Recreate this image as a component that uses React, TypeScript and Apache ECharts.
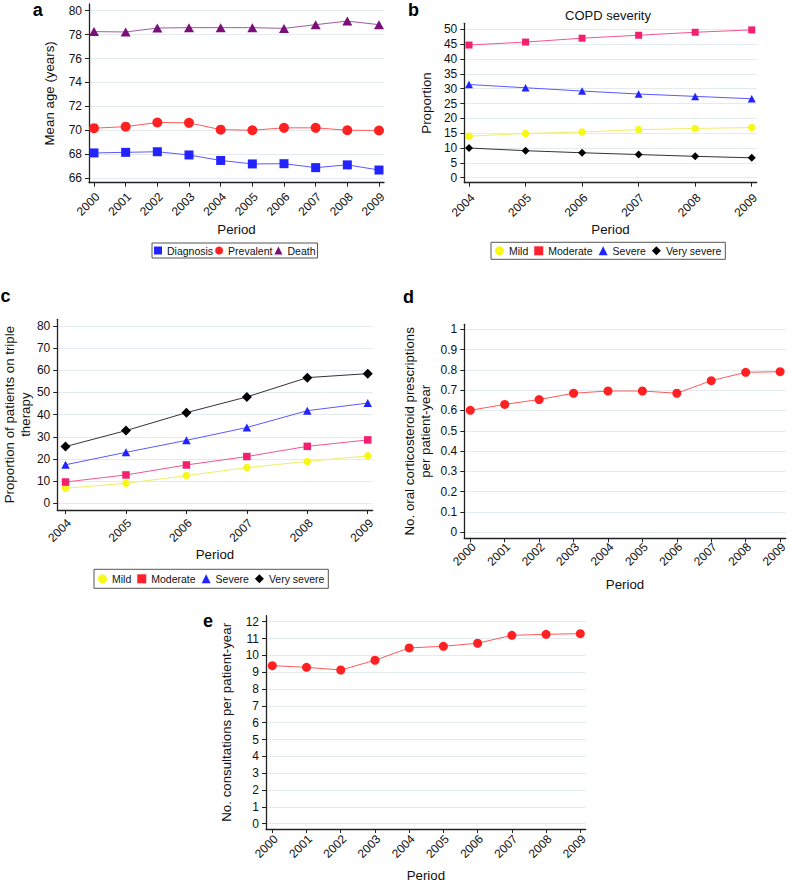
import React, { useEffect, useRef } from 'react';
import * as echarts from 'echarts';

const FONT = '"Liberation Sans", Arial, Helvetica, sans-serif';

// ---- Panel a: mean age ----
const yearsA = [2000, 2001, 2002, 2003, 2004, 2005, 2006, 2007, 2008, 2009];
const diagnosisAge = [68.1, 68.15, 68.2, 67.93, 67.47, 67.18, 67.2, 66.87, 67.1, 66.67];
const prevalentAge = [70.17, 70.3, 70.65, 70.62, 70.05, 70.0, 70.2, 70.2, 70.0, 69.98];
const deathAge = [78.25, 78.22, 78.55, 78.58, 78.58, 78.58, 78.52, 78.83, 79.13, 78.83];
const yTicksA = [66, 68, 70, 72, 74, 76, 78, 80];

// ---- Panel b: COPD severity ----
const yearsB = [2004, 2005, 2006, 2007, 2008, 2009];
const sevMild = [14.0, 14.9, 15.4, 16.2, 16.6, 16.9];
const sevModerate = [44.7, 45.7, 47.0, 48.0, 49.0, 49.8];
const sevSevere = [31.4, 30.3, 29.2, 28.2, 27.4, 26.6];
const sevVerySevere = [10.0, 9.1, 8.4, 7.8, 7.2, 6.7];
const yTicksB = [0, 5, 10, 15, 20, 25, 30, 35, 40, 45, 50];

// ---- Panel c: triple therapy ----
const tripleMild = [6.8, 9.0, 12.5, 16.1, 18.9, 21.4];
const tripleModerate = [9.6, 12.8, 17.3, 21.1, 25.7, 28.6];
const tripleSevere = [17.4, 23.0, 28.4, 34.2, 41.8, 45.2];
const tripleVerySevere = [25.6, 32.8, 40.9, 48.0, 56.7, 58.5];
const yTicksC = [0, 10, 20, 30, 40, 50, 60, 70, 80];

// ---- Panel d: oral corticosteroid prescriptions ----
const ocsRate = [0.601, 0.63, 0.654, 0.685, 0.696, 0.696, 0.685, 0.747, 0.788, 0.791];
const yTicksD = [0, 0.1, 0.2, 0.3, 0.4, 0.5, 0.6, 0.7, 0.8, 0.9, 1];

// ---- Panel e: consultations ----
const consultRate = [9.39, 9.29, 9.13, 9.71, 10.44, 10.54, 10.72, 11.19, 11.25, 11.29];
const yTicksE = [0, 1, 2, 3, 4, 5, 6, 7, 8, 9, 10, 11, 12];

const AXIS_COLOR = '#222';
const GRID_COLOR = '#e3ebef';
const TEXT_COLOR = '#111';

function xAxisDef(gridIndex: number, min: number, max: number, ticks: number[], nameGap: number, labelMargin: number) {
  return {
    type: 'value', gridIndex, min, max,
    axisLine: { show: true, onZero: false, lineStyle: { color: AXIS_COLOR, width: 1.3 } },
    axisTick: { show: true, customValues: ticks, length: 4, lineStyle: { color: AXIS_COLOR, width: 1 } },
    axisLabel: {
      customValues: ticks, rotate: 45, margin: labelMargin, fontSize: 12, color: TEXT_COLOR, fontFamily: FONT,
      verticalAlign: 'top', lineHeight: 10,
      formatter: (v: number) => String(v),
    },
    splitLine: { show: false },
    name: 'Period', nameLocation: 'middle', nameGap,
    nameTextStyle: { fontSize: 13.3, color: TEXT_COLOR, fontFamily: FONT },
  };
}

function yAxisDef(gridIndex: number, min: number, max: number, ticks: number[], name: string, nameGap: number) {
  return {
    type: 'value', gridIndex, min, max,
    axisLine: { show: true, onZero: false, lineStyle: { color: AXIS_COLOR, width: 1.3 } },
    axisTick: { show: true, customValues: ticks, length: 4, lineStyle: { color: AXIS_COLOR, width: 1 } },
    axisLabel: { customValues: ticks, margin: 7, fontSize: 12, color: TEXT_COLOR, fontFamily: FONT, formatter: (v: number) => String(v) },
    splitLine: { show: true, lineStyle: { color: GRID_COLOR, width: 1 } },
    name, nameLocation: 'middle', nameGap,
    nameTextStyle: { fontSize: 13.3, color: TEXT_COLOR, fontFamily: FONT, lineHeight: 16 },
  };
}

function lineSeries(name: string, xs: number[], ys: number[], idx: number, symbol: string, size: number | number[], marker: string, line: string) {
  return {
    type: 'line', name, xAxisIndex: idx, yAxisIndex: idx,
    data: xs.map((x, i) => [x, ys[i]]),
    symbol, symbolSize: size, showSymbol: true,
    itemStyle: { color: marker, borderWidth: 0 },
    lineStyle: { color: line, width: 1 },
    emphasis: { disabled: true },
    animation: false,
  };
}

function legendDef(items: any[], left: number, top: number, padding: number[], itemGap: number, itemWidth: number) {
  return {
    data: items, left, top, orient: 'horizontal', padding, itemGap,
    borderColor: '#555', borderWidth: 1, itemWidth, itemHeight: itemWidth,
    selectedMode: false,
    textStyle: { fontSize: 10.5, fontFamily: FONT, color: TEXT_COLOR },
  };
}

function letter(text: string, x: number, y: number) {
  return {
    type: 'text', x, y,
    style: { text, fontSize: 18, fontWeight: 'bold', fontFamily: FONT, fill: '#000', align: 'left', verticalAlign: 'middle' },
  };
}

const BLUE = '#2323ff', BLUE_L = '#5a5aff';
const RED = '#ff2121', RED_L = '#ff5a5a';
const PURPLE = '#7a0f7a', PURPLE_L = '#a35aa3';
const YELLOW = '#f7f71a', YELLOW_L = '#eeee66';
const PINK = '#f2206f', PINK_L = '#f25590';
const BLACK = '#000000', BLACK_L = '#333333';

export default function App() {
  const ref = useRef<HTMLDivElement>(null);
  useEffect(() => {
    if (!ref.current) return;
    const chart = echarts.init(ref.current, undefined, { renderer: 'svg' });
    const option: any = {
      animation: false,
      backgroundColor: '#ffffff',
      textStyle: { fontFamily: FONT },
      grid: [
        { left: 89, top: 4, width: 295, height: 178.7 },
        { left: 464.3, top: 23.3, width: 292.4, height: 159.4 },
        { left: 53.3, top: 319.3, width: 319.4, height: 190.7 },
        { left: 464.3, top: 324.3, width: 322.4, height: 214 },
        { left: 266, top: 615.7, width: 319.7, height: 213.6 },
      ],
      xAxis: [
        xAxisDef(0, 1999.842, 2009.158, yearsA, 40, 8.5),
        xAxisDef(1, 2003.917, 2009.088, yearsB, 40, 9.5),
        xAxisDef(2, 2003.863, 2009.082, yearsB, 37.5, 7.5),
        xAxisDef(3, 1999.826, 2009.165, yearsA, 40, 3),
        xAxisDef(4, 1999.816, 2009.158, yearsA, 40, 4.5),
      ],
      yAxis: [
        yAxisDef(0, 65.61, 80.56, yTicksA, 'Mean age (years)', 32),
        yAxisDef(1, -1.68, 52.02, yTicksB, 'Proportion', 30),
        yAxisDef(2, -3.02, 83.02, yTicksC, 'Proportion of patients on triple\ntherapy', 23),
        yAxisDef(3, -0.0296, 1.0246, yTicksD, 'No. oral corticosteroid prescriptions\nper patient-year', 31),
        yAxisDef(4, -0.314, 12.356, yTicksE, 'No. consultations per patient-year', 32),
      ],
      legend: [
        legendDef([
          { name: 'Diagnosis', icon: 'rect' },
          { name: 'Prevalent', icon: 'circle' },
          { name: 'Death', icon: 'triangle' },
        ], 152, 243, [2, 2], 2, 8),
        legendDef([
          { name: 'Mild', icon: 'circle' },
          { name: 'Moderate', icon: 'rect', itemStyle: { color: '#ff2030' } },
          { name: 'Severe', icon: 'triangle' },
          { name: 'Very severe', icon: 'diamond' },
        ], 491, 242.3, [3, 4], 6, 9),
        legendDef([
          { name: 'Mild', icon: 'circle' },
          { name: 'Moderate', icon: 'rect', itemStyle: { color: '#ff2030' } },
          { name: 'Severe', icon: 'triangle' },
          { name: 'Very severe', icon: 'diamond' },
        ], 94, 569.3, [4, 4], 6, 9),
      ],
      graphic: [
        letter('a', 32.7, 9.5),
        letter('b', 408, 9.5),
        letter('c', 0.5, 295.5),
        letter('d', 403, 296.8),
        letter('e', 203, 620.5),
        {
          type: 'text', x: 608, y: 15,
          style: { text: 'COPD severity', fontSize: 13, fontFamily: FONT, fill: TEXT_COLOR, align: 'center', verticalAlign: 'middle' },
        },
      ],
      series: [
        lineSeries('Diagnosis', yearsA, diagnosisAge, 0, 'rect', 9, BLUE, BLUE_L),
        lineSeries('Prevalent', yearsA, prevalentAge, 0, 'circle', 10, RED, RED_L),
        lineSeries('Death', yearsA, deathAge, 0, 'triangle', [10, 9], PURPLE, PURPLE_L),

        lineSeries('Mild', yearsB, sevMild, 1, 'circle', 7.5, YELLOW, YELLOW_L),
        lineSeries('Moderate', yearsB, sevModerate, 1, 'rect', 7, PINK, PINK_L),
        lineSeries('Severe', yearsB, sevSevere, 1, 'triangle', [8, 7.5], BLUE, BLUE_L),
        lineSeries('Very severe', yearsB, sevVerySevere, 1, 'diamond', 8, BLACK, BLACK_L),

        lineSeries('Mild', yearsB, tripleMild, 2, 'circle', 7.5, YELLOW, YELLOW_L),
        lineSeries('Moderate', yearsB, tripleModerate, 2, 'rect', 7.5, PINK, PINK_L),
        lineSeries('Severe', yearsB, tripleSevere, 2, 'triangle', [8.5, 8], BLUE, BLUE_L),
        lineSeries('Very severe', yearsB, tripleVerySevere, 2, 'diamond', 10, BLACK, BLACK_L),

        lineSeries('OCS', yearsA, ocsRate, 3, 'circle', 9, RED, RED_L),
        lineSeries('Consultations', yearsA, consultRate, 4, 'circle', 9, RED, RED_L),
      ],
    };
    chart.setOption(option);
    return () => chart.dispose();
  }, []);
  return <div ref={ref} style={{ position: 'absolute', left: 0, top: 0, width: 790, height: 883 }} />;
}
